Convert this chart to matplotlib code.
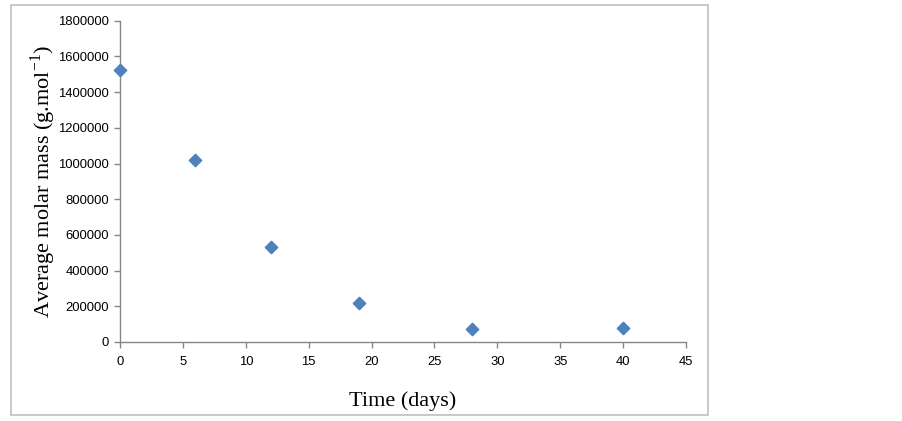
import matplotlib
matplotlib.use("Agg")
import matplotlib.pyplot as plt
from matplotlib.patches import Rectangle

time_days = [0, 6, 12, 19, 28, 40]
molar_mass = [1522000, 1018000, 532000, 220000, 73000, 76000]
x_ticks = [0, 5, 10, 15, 20, 25, 30, 35, 40, 45]
y_ticks = [0, 200000, 400000, 600000, 800000, 1000000, 1200000, 1400000, 1600000, 1800000]

W, H = 902, 421
fig = plt.figure(figsize=(W / 100, H / 100), dpi=100)
fig.patch.set_facecolor("white")

# outer chart border
fig.add_artist(Rectangle((11 / W, 1 - 415 / H), (708 - 11) / W, (415 - 5) / H,
                         transform=fig.transFigure, fill=False,
                         edgecolor="#BFBFBF", linewidth=1.2))

ax = fig.add_axes([120 / W, 1 - 342 / H, (686 - 120) / W, (342 - 20.7) / H])
ax.scatter(time_days, molar_mass, marker="D", s=40, color="#4F81BD",
           edgecolors="#4F81BD", zorder=3, clip_on=False)

ax.set_xlim(0, 45)
ax.set_ylim(0, 1800000)
ax.set_xticks(x_ticks)
ax.set_yticks(y_ticks)
ax.set_xticklabels([str(v) for v in x_ticks])
ax.set_yticklabels([str(v) for v in y_ticks])

for s in ["top", "right"]:
    ax.spines[s].set_visible(False)
for s in ["left", "bottom"]:
    ax.spines[s].set_color("#868686")
    ax.spines[s].set_linewidth(1.0)
ax.tick_params(axis="both", direction="out", length=4, width=1.0,
               color="#868686", labelsize=9.4, labelcolor="black")
for lab in ax.get_xticklabels() + ax.get_yticklabels():
    lab.set_family("Liberation Sans")
ax.tick_params(axis="x", pad=6)
ax.tick_params(axis="y", pad=4)

ax.set_xlabel("Time (days)", family="Liberation Serif", fontsize=16, labelpad=17)
ax.set_ylabel("Average molar mass (g.mol$^{\\mathregular{-1}}$)", family="Liberation Serif",
              fontsize=16)
ax.yaxis.set_label_coords((58 - 120) / 566, 0.5)

fig.savefig("out.png", dpi=100, facecolor="white")
